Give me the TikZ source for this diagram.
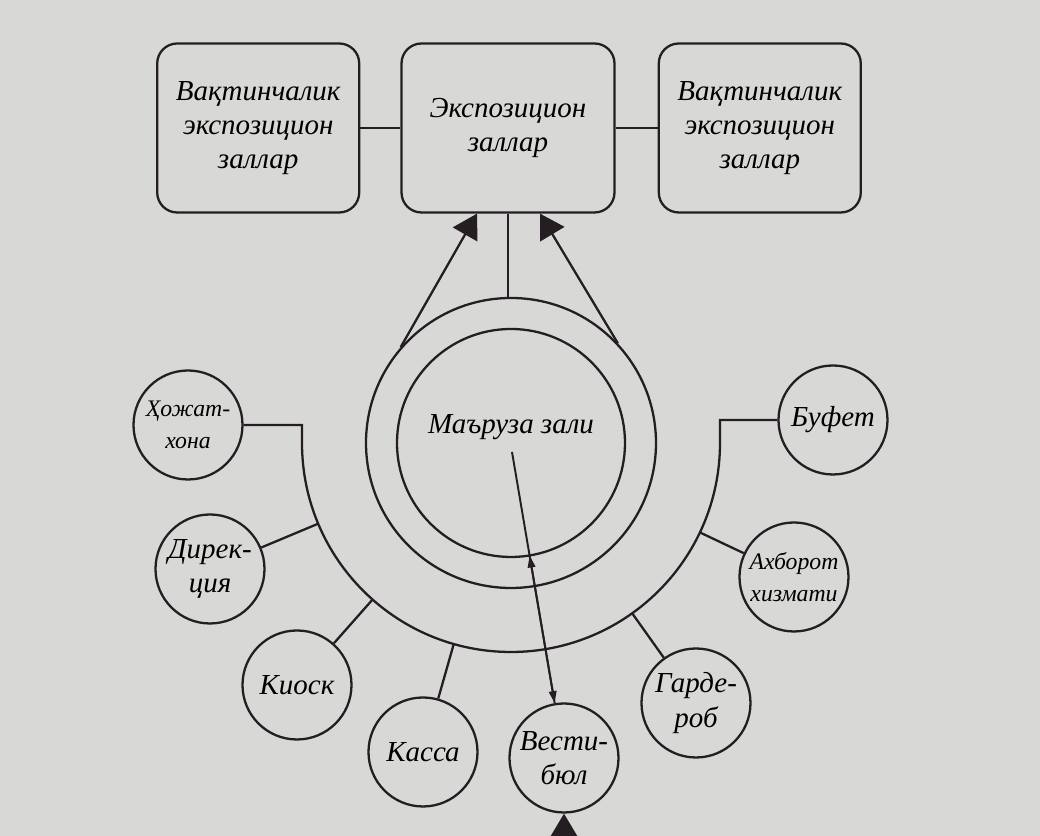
\documentclass[tikz,border=0pt]{standalone}
\usepackage{fontspec}
\setmainfont{Liberation Serif}
\usetikzlibrary{arrows.meta,positioning,calc}
\definecolor{paper}{RGB}{216,216,214}
\definecolor{ink}{RGB}{36,30,34}
\tikzset{
  hallbox/.style={draw=ink, line width=1.3pt, rounded corners=0.4cm, align=center,
    font=\fontsize{16.5}{19.5}\selectfont\itshape, minimum width=4.04cm, minimum height=3.38cm},
  roomcirc/.style={draw=ink, circle, line width=1.3pt, align=center, inner sep=0pt,
    font=\fontsize{16.5}{19.5}\selectfont\itshape, minimum size=2.18cm},
  ringcirc/.style={draw=ink, circle, line width=1.3pt, inner sep=0pt},
  linkline/.style={draw=ink, line width=1.3pt},
  bigarrow/.style={linkline, -{Triangle[length=0.48cm, width=0.56cm]}},
  smallarrow/.style={linkline, line width=1.1pt, -{Triangle[length=0.24cm, width=0.15cm]}}
}

\begin{document}
\begin{tikzpicture}[node distance=0.8cm]
    \fill[paper] (0,0) rectangle (20.8,16.72);
    \useasboundingbox (0,0) rectangle (20.8,16.72);

    \node[hallbox, minimum width=4.26cm] (expo) at (10.16,14.16) {Экспозицион\\заллар};
    \node[hallbox, left=of expo] (tempL) {Вақтинчалик\\экспозицион\\заллар};
    \node[hallbox, right=0.84cm of expo] (tempR) {Вақтинчалик\\экспозицион\\заллар};

    \coordinate (C) at (10.22,7.86);
    \node[ringcirc, minimum size=5.8cm] (ring) at (C) {};
    \node[ringcirc, minimum size=4.56cm] (hall) at (C) {};
    \node[font=\fontsize{16.5}{19.5}\selectfont\itshape] (halltext) at ($(C)+(0,0.32)$) {Маъруза зали};

    \node[roomcirc, font=\fontsize{13.5}{18}\selectfont\itshape] (hoj) at (3.76,8.22) {Ҳожат-\\хона};
    \node[roomcirc] (dir) at (4.20,5.34) {Дирек-\\ция};
    \node[roomcirc] (kiosk) at (5.94,3.02) {Киоск};
    \node[roomcirc] (kassa) at (8.46,1.68) {Касса};
    \node[roomcirc] (vest) at (11.28,1.56) {Вести-\\бюл};
    \node[roomcirc] (garde) at (13.92,2.66) {Гарде-\\роб};
    \node[roomcirc, font=\fontsize{13.5}{18}\selectfont\itshape] (axb) at (15.88,5.18) {Ахборот\\хизмати};
    \node[roomcirc] (buf) at (16.66,8.32) {Буфет};

    \draw[linkline] (tempL.east) -- (expo.west);
    \draw[linkline] (expo.east) -- (tempR.west);
    \draw[linkline] (expo.south) -- (expo.south |- ring.north);
    \draw[bigarrow] (ring.139) -- ($(expo.south)+(-0.62,0)$);
    \draw[bigarrow] (ring.43) -- ($(expo.south)+(0.64,0)$);

    \coordinate (arcL) at ($(C)+(-4.18,0)$);
    \coordinate (arcR) at ($(C)+(4.18,0)$);
    \draw[linkline] (hoj.east) -- (hoj.east -| arcL) -- (arcL)
      arc[start angle=180, end angle=360, radius=4.18cm] -- (arcR |- buf.west) -- (buf.west);
    \foreach \r in {dir,kiosk,kassa,garde,axb}
      \draw[linkline] (\r) -- ($(C)!4.18cm!(\r)$);

    \coordinate (hallmid) at ($(C)+(0.02,-0.18)$);
    \draw[smallarrow] (hallmid) -- (vest);
    \draw[smallarrow] (vest) -- ($(hallmid)!2.1cm!(vest)$);
    \coordinate (entry) at ($(vest.south)+(0,-1.2)$);
    \draw[bigarrow] (entry) -- (vest.south);
\end{tikzpicture}
\end{document}
